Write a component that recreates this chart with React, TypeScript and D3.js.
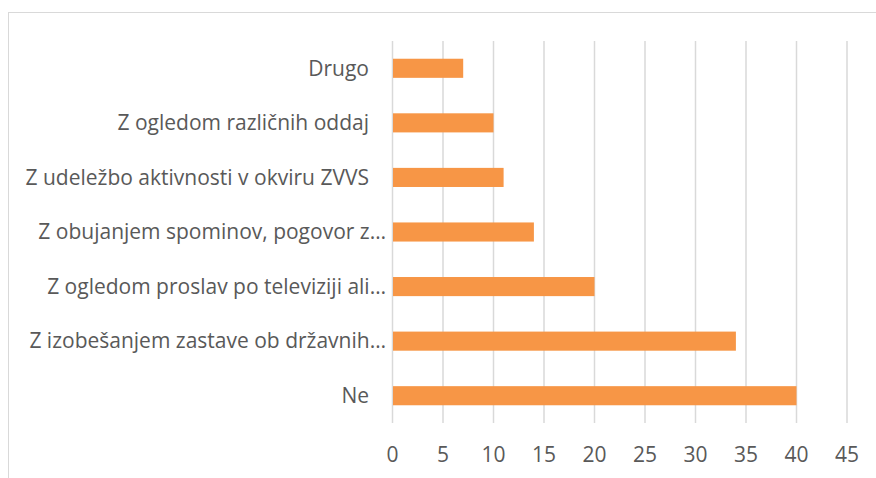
import React, { useEffect, useRef } from "react";
import * as d3 from "d3";

const categories = [
  "Drugo",
  "Z ogledom različnih oddaj",
  "Z udeležbo aktivnosti v okviru ZVVS",
  "Z obujanjem spominov, pogovor z…",
  "Z ogledom proslav po televiziji ali…",
  "Z izobešanjem zastave ob državnih…",
  "Ne",
];
const values = [7, 10, 11, 14, 20, 34, 40];
const ticks = [0, 5, 10, 15, 20, 25, 30, 35, 40, 45];

export default function App() {
  const ref = useRef<SVGSVGElement>(null);
  const width = 876;
  const height = 478;
  const plot = { left: 392.5, right: 847, top: 41, bottom: 423 };
  const fontSize = 21;

  useEffect(() => {
    const svg = d3.select(ref.current);
    svg.selectAll("*").remove();

    const x = d3.scaleLinear().domain([0, 45]).range([plot.left, plot.right]);
    const y = d3
      .scaleBand()
      .domain(categories)
      .range([plot.top, plot.bottom])
      .paddingInner(0.65)
      .paddingOuter(0.325);

    // chart border
    svg
      .append("rect")
      .attr("x", 8.5)
      .attr("y", 12.5)
      .attr("width", 1000)
      .attr("height", 600)
      .attr("fill", "white")
      .attr("stroke", "#D9D9D9")
      .attr("stroke-width", 1);

    // gridlines
    svg
      .append("g")
      .selectAll("line")
      .data(ticks)
      .join("line")
      .attr("x1", (d) => x(d))
      .attr("x2", (d) => x(d))
      .attr("y1", plot.top)
      .attr("y2", plot.bottom)
      .attr("stroke", "#D9D9D9")
      .attr("stroke-width", 1.5);

    // bars
    svg
      .append("g")
      .selectAll("rect")
      .data(values)
      .join("rect")
      .attr("x", x(0) + 0.5)
      .attr("y", (d, i) => y(categories[i])!)
      .attr("width", (d) => x(d) - x(0) - 0.5)
      .attr("height", y.bandwidth())
      .attr("fill", "#F79646");

    // category labels
    svg
      .append("g")
      .selectAll("text")
      .data(categories)
      .join("text")
      .attr("x", (d) => (d.endsWith("…") ? 386 : 369))
      .attr("y", (d) => y(d)! + y.bandwidth() / 2)
      .attr("dy", "0.35em")
      .attr("text-anchor", "end")
      .attr("fill", "#595959")
      .style("font-family", "'Open Sans', sans-serif")
      .style("font-size", `${fontSize}px`)
      .text((d) => d);

    // x tick labels
    svg
      .append("g")
      .selectAll("text")
      .data(ticks)
      .join("text")
      .attr("x", (d) => x(d))
      .attr("y", 455)
      .attr("dy", "0.35em")
      .attr("text-anchor", "middle")
      .attr("fill", "#595959")
      .style("font-family", "'Open Sans', sans-serif")
      .style("font-size", `${fontSize}px`)
      .text((d) => d);
  }, []);

  return (
    <svg
      ref={ref}
      width={width}
      height={height}
      style={{ position: "absolute", left: 0, top: 0, background: "white" }}
    ></svg>
  );
}
